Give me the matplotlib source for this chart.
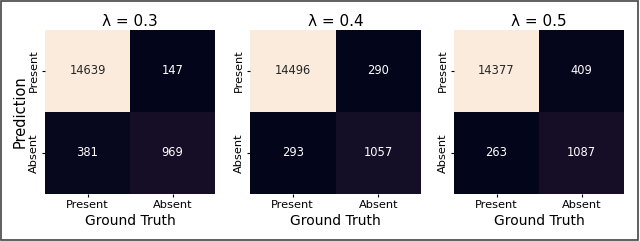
import matplotlib
matplotlib.use("Agg")
import matplotlib.pyplot as plt
import seaborn as sns
import numpy as np
from matplotlib.patches import Rectangle

lambdas = ["0.3", "0.4", "0.5"]
labels = ["Present", "Absent"]
cm_03 = [[14639, 147], [381, 969]]
cm_04 = [[14496, 290], [293, 1057]]
cm_05 = [[14377, 409], [263, 1087]]
matrices = [cm_03, cm_04, cm_05]

plt.rcParams['font.family'] = ['DejaVu Sans']

fig = plt.figure(figsize=(6.4, 2.41), dpi=100)
W, H = 640, 241
boxes = [(45, 215), (250, 421), (454, 624)]
top_px, bot_px = 30, 194

for i, (lam, cm) in enumerate(zip(lambdas, matrices)):
    x0, x1 = boxes[i]
    ax = fig.add_axes([x0 / W, 1 - bot_px / H, (x1 - x0) / W, (bot_px - top_px) / H])
    sns.heatmap(np.array(cm), annot=True, fmt="d", cbar=False, ax=ax,
                xticklabels=labels, yticklabels=labels,
                annot_kws={"fontsize": 8.3})
    ax.set_title(f"λ = {lam}", fontsize=11, pad=3)
    ax.set_xlabel("Ground Truth", fontsize=10, labelpad=2.5)
    if i == 0:
        ax.set_ylabel("Prediction", fontsize=10.5, labelpad=1)
    ax.tick_params(axis='both', labelsize=8.2, length=2.5, pad=2)
    ax.set_yticklabels(labels, rotation=90, va='center')
    ax.set_xticklabels(labels, rotation=0)

fig.patches.append(Rectangle((0.002, 0.004), 0.995, 0.99, transform=fig.transFigure,
                             fill=False, edgecolor='#444444', linewidth=1.2))

fig.savefig("out.png", dpi=100)
